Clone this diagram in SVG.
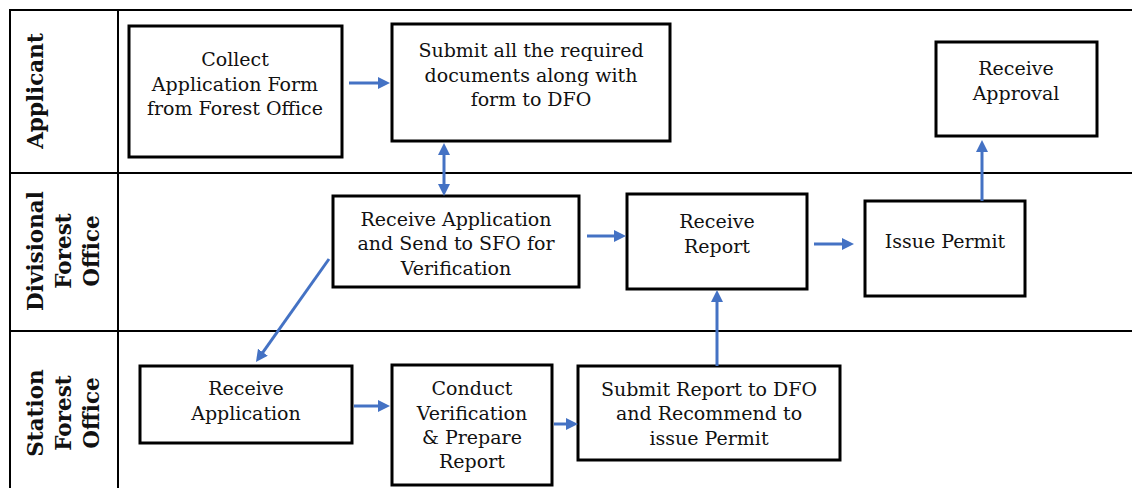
<svg xmlns="http://www.w3.org/2000/svg" width="1132" height="488" viewBox="0 0 1132 488">
<style>
.grid{stroke:#000;stroke-width:2;fill:none}
.box{fill:#fff;stroke:#000;stroke-width:3}
.t{font-family:"DejaVu Serif","Liberation Serif",serif;font-size:19px;fill:#111;text-anchor:middle}
.h{font-family:"DejaVu Serif","Liberation Serif",serif;font-size:21.5px;font-weight:bold;fill:#111;text-anchor:middle}
.c{stroke:#4472C4;stroke-width:3;fill:none;marker-end:url(#ah)}
.d{marker-start:url(#ah)}
</style>
<defs>
<marker id="ah" markerUnits="userSpaceOnUse" markerWidth="12" markerHeight="12" refX="5" refY="6" orient="auto-start-reverse" viewBox="0 0 12 12">
<path d="M0,0 L12,6 L0,12 z" fill="#4472C4"/>
</marker>
</defs>
<rect width="1132" height="488" fill="#fff"/>
<g id="lanes">
<path class="grid" d="M1132,10 H10 V488 M118,10 V488 M10,173 H1132 M10,331 H1132"/>
<text class="h" transform="translate(43,91) rotate(-90)">Applicant</text>
<text class="h" transform="translate(43,251) rotate(-90)">Divisional</text>
<text class="h" transform="translate(71,251) rotate(-90)">Forest</text>
<text class="h" transform="translate(99,251) rotate(-90)">Office</text>
<text class="h" transform="translate(43,413) rotate(-90)">Station</text>
<text class="h" transform="translate(71,413) rotate(-90)">Forest</text>
<text class="h" transform="translate(99,413) rotate(-90)">Office</text>
</g>
<g id="collect">
<rect class="box" x="129" y="26" width="213" height="131"/>
<text class="t"><tspan y="66" x="235">Collect</tspan><tspan y="91" x="235">Application Form</tspan><tspan y="115" x="235">from Forest Office</tspan></text>
</g>
<g id="submit">
<rect class="box" x="392" y="24" width="278" height="117"/>
<text class="t"><tspan y="57" x="531">Submit all the required</tspan><tspan y="82" x="531">documents along with</tspan><tspan y="106" x="531">form to DFO</tspan></text>
</g>
<g id="approval">
<rect class="box" x="936" y="42" width="161" height="94"/>
<text class="t"><tspan y="75" x="1016">Receive</tspan><tspan y="100" x="1016">Approval</tspan></text>
</g>
<g id="dfo-receive">
<rect class="box" x="333" y="196" width="246" height="91"/>
<text class="t"><tspan y="226" x="456">Receive Application</tspan><tspan y="250" x="456">and Send to SFO for</tspan><tspan y="275" x="456">Verification</tspan></text>
</g>
<g id="report">
<rect class="box" x="627" y="194" width="180" height="95"/>
<text class="t"><tspan y="228" x="717">Receive</tspan><tspan y="253" x="717">Report</tspan></text>
</g>
<g id="permit">
<rect class="box" x="865" y="201" width="160" height="95"/>
<text class="t" x="945" y="248">Issue Permit</text>
</g>
<g id="sfo-receive">
<rect class="box" x="140" y="366" width="212" height="77"/>
<text class="t"><tspan y="395" x="246">Receive</tspan><tspan y="420" x="246">Application</tspan></text>
</g>
<g id="conduct">
<rect class="box" x="392" y="365" width="160" height="120"/>
<text class="t"><tspan y="395" x="472">Conduct</tspan><tspan y="420" x="472">Verification</tspan><tspan y="444" x="472">&amp; Prepare</tspan><tspan y="468" x="472">Report</tspan></text>
</g>
<g id="submit-report">
<rect class="box" x="578" y="366" width="262" height="94"/>
<text class="t"><tspan y="396" x="709">Submit Report to DFO</tspan><tspan y="420" x="709">and Recommend to</tspan><tspan y="445" x="709">issue Permit</tspan></text>
</g>
<g id="connectors">
<line class="c" x1="349" y1="83" x2="383" y2="83"/>
<line class="c d" x1="444" y1="150" x2="444" y2="189"/>
<line class="c" x1="329" y1="259" x2="260" y2="356.3"/>
<line class="c" x1="587" y1="236" x2="619" y2="236"/>
<line class="c" x1="814" y1="244" x2="847" y2="244"/>
<line class="c" x1="982" y1="201" x2="982" y2="147"/>
<line class="c" x1="354" y1="406" x2="383" y2="406"/>
<line class="c" x1="554" y1="424" x2="571" y2="424"/>
<line class="c" x1="717" y1="366" x2="717" y2="297"/>
</g>
</svg>
